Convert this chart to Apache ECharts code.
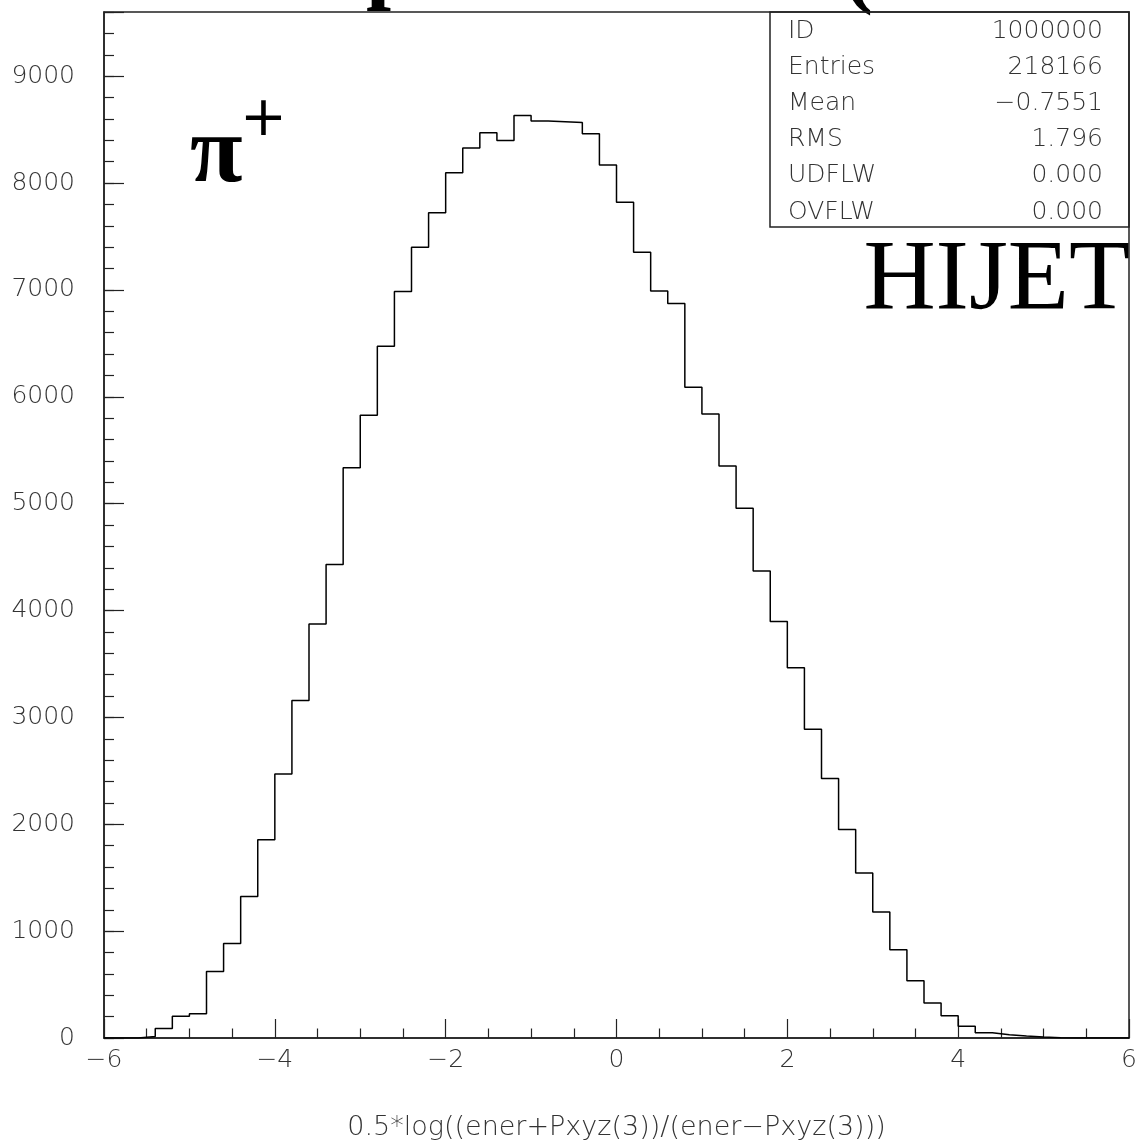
<!DOCTYPE html>
<html>
<head>
<meta charset="utf-8">
<script src="https://cdn.jsdelivr.net/npm/echarts@6/dist/echarts.min.js"></script>
<style>
html, body { margin: 0; padding: 0; background: #fff; }
#hist { width: 1139px; height: 1141px; }
</style>
</head>
<body>
<div id="hist"></div>
<script>
// 60 bins of width 0.2 between -6 and 6
var xLow = -6;
var binWidth = 0.2;
var counts = [
    0, 0, 15, 88, 204, 228, 622, 884, 1323, 1856,
    2471, 3158, 3873, 4431, 5336, 5826, 6473, 6985, 7398, 7722,
    8096, 8327, 8470, 8398, 8632, 8579, 8574, 8566, 8461, 8168,
    7819, 7351, 6990, 6873, 6090, 5839, 5352, 4956, 4369, 3897,
    3465, 2889, 2427, 1950, 1545, 1178, 825, 535, 327, 208,
    110, 48, 31, 18, 9, 3, 0, 0, 0, 0
];
var xTickValues = [-6, -4, -2, 0, 2, 4, 6];
var yTickValues = [0, 1000, 2000, 3000, 4000, 5000, 6000, 7000, 8000, 9000];
var statNames = ['ID', 'Entries', 'Mean', 'RMS', 'UDFLW', 'OVFLW'];
var statValues = ['1000000', '218166', '\u22120.7551', '1.796', '0.000', '0.000'];
var xTitle = '0.5*log((ener+Pxyz(3))/(ener\u2212Pxyz(3)))';

var thinFont = 'DejaVu Sans';
var ink = '#222';
var textInk = '#333';

// step outline: one point at each bin's low edge, plus the last upper edge
var points = [];
for (var i = 0; i < counts.length; i++) {
    points.push([xLow + i * binWidth, counts[i]]);
}
points.push([xLow + counts.length * binWidth, counts[counts.length - 1]]);

function minusLabel(v) {
    return v < 0 ? '\u2212' + Math.abs(v) : String(v);
}

var myChart = echarts.init(document.getElementById('hist'), null, {renderer: 'canvas'});

// stats box rows
var statTexts = [];
statNames.forEach(function (name, k) {
    statTexts.push({
        type: 'text', left: 788, top: 32 + k * 36.1 - 13,
        style: {text: name, fontSize: 25, fontFamily: thinFont, fontWeight: 200, fill: textInk}
    });
    statTexts.push({
        type: 'text', right: 1139 - 1103, top: 32 + k * 36.1 - 13,
        style: {text: statValues[k], fontSize: 25, fontFamily: thinFont, fontWeight: 200, fill: textInk, align: 'right'}
    });
});

var option = {
    backgroundColor: '#fff',
    animation: false,
    grid: {
        left: 104, right: 10, top: 12, bottom: 103,
        outerBoundsMode: 'none',
        containLabel: false,
        show: true, borderColor: ink, borderWidth: 1.5
    },
    xAxis: {
        type: 'value',
        min: -6, max: 6, interval: 2,
        name: xTitle,
        nameLocation: 'middle',
        nameGap: 76,
        nameTextStyle: {fontSize: 27, fontFamily: thinFont, fontWeight: 200, color: textInk},
        axisLine: {show: true, onZero: false, lineStyle: {color: ink, width: 1.5}},
        axisTick: {show: true, inside: true, length: 19, lineStyle: {color: ink, width: 1.2}},
        minorTick: {show: true, splitNumber: 4, length: 9.5, lineStyle: {color: ink, width: 1.2}},
        axisLabel: {
            margin: 10, fontSize: 25, fontFamily: thinFont, fontWeight: 200, color: textInk,
            formatter: function (v) { return xTickValues.indexOf(v) >= 0 ? minusLabel(v) : ''; }
        },
        splitLine: {show: false}
    },
    yAxis: [
        {
            type: 'value',
            min: 0, max: 9600, interval: 1000,
            axisLine: {show: true, onZero: false, lineStyle: {color: ink, width: 1.5}},
            axisTick: {show: true, inside: true, length: 20, lineStyle: {color: ink, width: 1.2}},
            axisLabel: {
                margin: 29, fontSize: 25, fontFamily: thinFont, fontWeight: 200, color: textInk,
                formatter: function (v) { return yTickValues.indexOf(v) >= 0 ? String(v) : ''; }
            },
            splitLine: {show: false}
        },
        {
            // minor ticks every 200
            type: 'value', position: 'left', offset: 0,
            min: 0, max: 9600, interval: 200,
            axisLine: {show: false, onZero: false},
            axisTick: {show: true, inside: true, length: 10, lineStyle: {color: ink, width: 1.2}},
            axisLabel: {show: false},
            splitLine: {show: false}
        }
    ],
    graphic: [
        // title, mostly cut off above the page
        {type: 'text', left: 366, top: -76, style: {text: 'p', fontSize: 90, fontFamily: 'Liberation Serif', fontWeight: 'bold', fill: '#000'}},
        {type: 'text', left: 843, top: -72, style: {text: '(', fontSize: 90, fontFamily: 'Liberation Serif', fontWeight: 'bold', fill: '#000'}},
        // particle label
        {type: 'text', left: 190, top: 108, style: {text: '\u03c0', fontSize: 96, fontFamily: 'Liberation Serif', fontWeight: 'bold', fill: '#000'}},
        {type: 'text', left: 240, top: 92, style: {text: '+', fontSize: 56, fontFamily: thinFont, fill: '#000'}},
        // generator label
        {type: 'text', right: 9, top: 232, style: {text: 'HIJET', fontSize: 100, fontFamily: 'Liberation Serif', fill: '#000', align: 'right'}},
        // stats box
        {type: 'rect', shape: {x: 770, y: 12, width: 359, height: 215}, style: {fill: 'none', stroke: ink, lineWidth: 1.5}}
    ].concat(statTexts),
    series: [
        {
            name: 'rapidity',
            type: 'line',
            step: 'end',
            symbol: 'none',
            data: points,
            lineStyle: {color: '#000', width: 1.5}
        }
    ]
};

myChart.setOption(option);
</script>
</body>
</html>
